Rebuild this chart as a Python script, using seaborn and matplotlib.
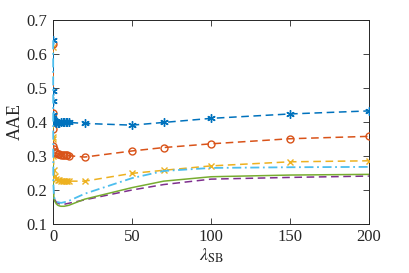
import numpy as np
import pandas as pd
import matplotlib
matplotlib.use('Agg')
import matplotlib.pyplot as plt
import seaborn as sns

lam = [0, 0.01, 0.05, 0.1, 0.5, 1, 2, 3, 4, 5, 6, 7, 8, 9, 10, 20, 50, 70, 100, 150, 200]

blue = [0.64, 0.49, 0.46, 0.42, 0.405, 0.40, 0.397, 0.397, 0.397, 0.398, 0.398, 0.398,
        0.398, 0.398, 0.398, 0.395, 0.39, 0.398, 0.41, 0.423, 0.432]
orange = [0.63, 0.425, 0.38, 0.33, 0.32, 0.31, 0.307, 0.305, 0.304, 0.303, 0.302, 0.302,
          0.301, 0.301, 0.30, 0.296, 0.314, 0.324, 0.335, 0.35, 0.357]
yellow = [0.62, 0.355, 0.35, 0.30, 0.257, 0.24, 0.23, 0.228, 0.227, 0.226, 0.226, 0.225,
          0.225, 0.225, 0.225, 0.225, 0.248, 0.257, 0.27, 0.282, 0.285]
cyan = [0.64, 0.45, 0.30, 0.22, 0.18, 0.172, 0.166, 0.163, 0.162, 0.161, 0.162, 0.163,
        0.164, 0.165, 0.167, 0.188, 0.234, 0.255, 0.264, 0.266, 0.267]
green = [0.64, 0.42, 0.28, 0.20, 0.175, 0.166, 0.158, 0.154, 0.152, 0.151, 0.151, 0.151,
         0.152, 0.153, 0.154, 0.172, 0.206, 0.225, 0.238, 0.243, 0.245]
purple = [0.64, 0.42, 0.28, 0.20, 0.178, 0.17, 0.163, 0.16, 0.158, 0.157, 0.157, 0.157,
          0.158, 0.159, 0.16, 0.17, 0.199, 0.215, 0.231, 0.236, 0.24]

sns.set_style('ticks')
plt.rcParams['font.family'] = ['Liberation Serif', 'DejaVu Serif']
plt.rcParams['mathtext.fontset'] = 'stix'

fig = plt.figure(figsize=(4.09, 2.73), dpi=100)
ax = fig.add_axes([0.13, 0.181, 0.772, 0.746])

asterisk = (6, 2, 0)
dash = (0, (5, 3))
# line-only series first so markers sit on top
sns.lineplot(x=lam, y=purple, ax=ax, color='#7E2F8E', lw=1.1, linestyle=dash, zorder=3)
sns.lineplot(x=lam, y=green, ax=ax, color='#77AC30', lw=1.1, zorder=3)
sns.lineplot(x=lam, y=yellow, ax=ax, color='#EDB120', lw=1.1, linestyle=dash,
             marker='x', markersize=5, markeredgewidth=1.0, markeredgecolor='#EDB120', zorder=3)
sns.lineplot(x=lam, y=orange, ax=ax, color='#D95319', lw=1.1, linestyle=dash,
             marker='o', markersize=5, markerfacecolor='none', markeredgecolor='#D95319',
             markeredgewidth=1.0, zorder=3)
sns.lineplot(x=lam, y=blue, ax=ax, color='#0072BD', lw=1.1, linestyle=dash,
             marker=asterisk, markersize=6, markeredgewidth=1.0, markeredgecolor='#0072BD', zorder=3)
sns.lineplot(x=lam, y=cyan, ax=ax, color='#4DBEEE', lw=1.3, linestyle=(0, (5, 2, 1, 2)),
             zorder=3, clip_on=False)

ax.set_xlim(0, 200)
ax.set_ylim(0.1, 0.7)
ax.set_xticks([0, 50, 100, 150, 200])
ax.set_yticks([0.1, 0.2, 0.3, 0.4, 0.5, 0.6, 0.7])
ax.set_yticklabels(['0.1', '0.2', '0.3', '0.4', '0.5', '0.6', '0.7'])
ax.tick_params(direction='in', top=True, right=True, labelsize=12, length=4,
               width=0.6, colors='#262626', pad=4)
for s in ax.spines.values():
    s.set_linewidth(0.7)
    s.set_color('#262626')
ax.set_xlabel(r'$\lambda_{\rm SB}$', fontsize=13, labelpad=1)
ax.set_ylabel('AAE', fontsize=13, labelpad=2)

fig.savefig('out.png', dpi=100)
